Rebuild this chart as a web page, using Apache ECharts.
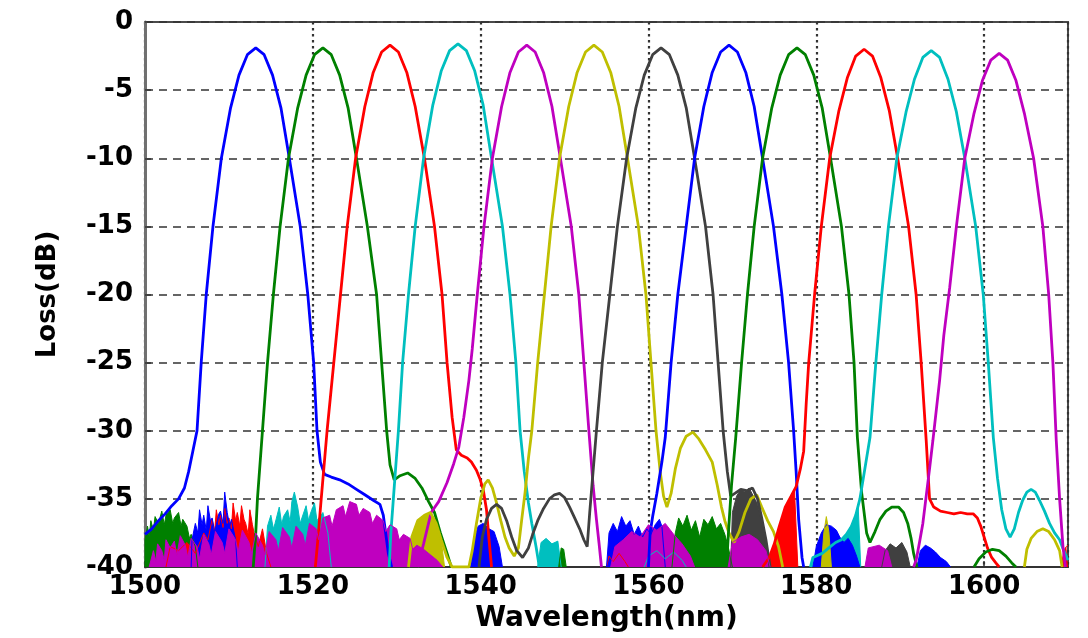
<!DOCTYPE html>
<html>
<head>
<meta charset="utf-8">
<title>Loss spectrum</title>
<script src="https://cdn.jsdelivr.net/npm/echarts@6/dist/echarts.min.js"></script>
<style>
  html, body { margin: 0; padding: 0; background: #fff; }
  #chart { width: 1088px; height: 638px; }
</style>
</head>
<body>
<div id="chart"></div>
<script>
// axis ranges
const xRange = [1500, 1610]
const yRange = [-40, 0]

// main channel traces, [wavelength nm, loss dB]
const ch1 = [[1500,-37.6],[1500.8,-37.2],[1501.6,-36.6],[1502.4,-36.1],[1503.2,-35.5],[1504,-35],[1504.7,-34.2],[1505.2,-33],[1505.7,-31.5],[1506.2,-30],[1506.7,-25],[1507.3,-20],[1508.1,-15],[1509.1,-10],[1510.2,-6.3],[1511.2,-3.9],[1512.2,-2.4],[1513.2,-1.9],[1514.2,-2.4],[1515.2,-3.9],[1516.2,-6.3],[1517.2,-10],[1518.5,-15],[1519.4,-20],[1520.1,-25],[1520.5,-30],[1520.9,-32.3],[1521.4,-33.2],[1522.2,-33.4],[1523.2,-33.6],[1524.2,-33.9],[1525.2,-34.3],[1526.2,-34.7],[1527.2,-35.1],[1528,-35.4],[1528.4,-36.2],[1528.7,-37.6],[1529,-39],[1529.4,-40]]
const ch2 = [[1512.9,-40],[1513.2,-37.5],[1513.4,-35],[1514,-30],[1514.6,-25],[1515.3,-20],[1516.1,-15],[1517.1,-10],[1518.2,-6.3],[1519.2,-3.9],[1520.2,-2.4],[1521.2,-1.9],[1522.2,-2.4],[1523.2,-3.9],[1524.2,-6.3],[1525.2,-10],[1526.5,-15],[1527.6,-20],[1528.2,-25],[1528.8,-30],[1529.2,-32.5],[1529.7,-33.6],[1530.4,-33.3],[1531.3,-33.1],[1532.2,-33.5],[1533,-34.2],[1533.8,-35.2],[1534.5,-36],[1535.2,-37.5],[1536,-39],[1536.5,-40]]
const ch3 = [[1520.3,-40],[1520.6,-38],[1521,-35],[1521.7,-30],[1522.5,-25],[1523.3,-20],[1524.1,-15],[1525.1,-10],[1526.2,-6.2],[1527.2,-3.7],[1528.2,-2.2],[1529.2,-1.7],[1530.2,-2.2],[1531.2,-3.7],[1532.2,-6.2],[1533.3,-10],[1534.5,-15],[1535.4,-20],[1536,-25],[1536.6,-29],[1537.1,-31.4],[1537.7,-31.8],[1538.4,-32],[1538.9,-32.3],[1539.5,-32.9],[1539.9,-33.5],[1540.3,-34.3],[1540.7,-35.8],[1541,-38],[1541.3,-40]]
const ch4 = [[1529.1,-40],[1529.3,-37.5],[1529.6,-35],[1530.2,-30],[1530.7,-25],[1531.4,-20],[1532.2,-15],[1533.2,-10],[1534.3,-6.1],[1535.3,-3.6],[1536.3,-2.1],[1537.3,-1.6],[1538.3,-2.1],[1539.3,-3.6],[1540.3,-6.1],[1541.3,-10],[1542.6,-15],[1543.5,-20],[1544.2,-25],[1544.7,-30],[1545.2,-33],[1545.7,-35.3],[1546.1,-36.8],[1546.6,-38.5],[1547,-40]]
const ch5 = [[1532.5,-40],[1533.2,-38.3],[1534.1,-36],[1535,-35.2],[1536,-33.8],[1536.8,-32.4],[1537.4,-31.2],[1538,-29],[1538.6,-26.3],[1539,-24],[1539.6,-20],[1540.4,-15],[1541.4,-10],[1542.5,-6.2],[1543.5,-3.7],[1544.5,-2.2],[1545.5,-1.7],[1546.5,-2.2],[1547.5,-3.7],[1548.5,-6.2],[1549.5,-10],[1550.8,-15],[1551.7,-20],[1552.3,-25],[1552.9,-30],[1553.4,-34],[1553.8,-36.5],[1554.1,-38.2],[1554.4,-40]]
const ch6 = [[1531.4,-40],[1531.8,-37.8],[1532.5,-36.6],[1533.3,-36.2],[1534,-36],[1534.7,-36.8],[1535.3,-38],[1536,-39.3],[1536.6,-40],[1538.6,-40],[1539,-38.8],[1539.5,-36.8],[1540,-35],[1540.5,-33.9],[1540.9,-33.6],[1541.4,-34.2],[1541.9,-35.3],[1542.4,-36.6],[1542.9,-37.8],[1543.4,-38.6],[1544,-39.2],[1544.5,-38.6],[1544.9,-36.5],[1545.3,-34.5],[1545.7,-32],[1546.1,-30],[1546.8,-25],[1547.6,-20],[1548.4,-15],[1549.4,-10],[1550.5,-6.2],[1551.5,-3.7],[1552.5,-2.2],[1553.5,-1.7],[1554.5,-2.2],[1555.5,-3.7],[1556.5,-6.2],[1557.5,-10],[1558.8,-15],[1559.7,-20],[1560.3,-25],[1560.9,-30],[1561.4,-33],[1561.8,-34.8],[1562.2,-35.6],[1562.7,-34.6],[1563.2,-32.8],[1563.8,-31.3],[1564.5,-30.4],[1565.3,-30.1],[1566,-30.6],[1566.8,-31.4],[1567.6,-32.3],[1568.2,-34],[1568.7,-35.6],[1569.1,-36.6],[1569.6,-37.5],[1570.2,-38.2],[1570.8,-37.4],[1571.5,-36],[1572.2,-35],[1572.9,-34.7],[1573.5,-35.6],[1574.2,-36.6],[1574.9,-37.4],[1575.5,-38.5],[1576,-40]]
const ch7 = [[1539.8,-40],[1540.2,-37.8],[1540.7,-36.5],[1541.3,-35.7],[1541.9,-35.4],[1542.5,-35.7],[1543.1,-36.6],[1543.7,-37.8],[1544.3,-38.8],[1545,-39.3],[1545.7,-38.6],[1546.2,-37.6],[1546.8,-36.6],[1547.5,-35.7],[1548.2,-35],[1548.8,-34.7],[1549.4,-34.6],[1550,-34.9],[1550.6,-35.6],[1551.2,-36.4],[1551.8,-37.2],[1552.3,-38],[1552.7,-38.5],[1553,-36],[1553.4,-33],[1553.8,-30],[1554.5,-25],[1555.4,-20],[1556.3,-15],[1557.4,-10],[1558.5,-6.3],[1559.5,-3.9],[1560.5,-2.4],[1561.5,-1.9],[1562.5,-2.4],[1563.5,-3.9],[1564.5,-6.3],[1565.5,-10],[1566.8,-15],[1567.7,-20],[1568.3,-25],[1568.9,-30],[1569.4,-33],[1569.8,-34.8],[1570.3,-34.6],[1571,-34.3],[1571.7,-34.4],[1572.4,-34.2],[1573,-35],[1573.5,-36.4],[1574,-38],[1574.5,-40]]
const ch8 = [[1560,-40],[1560.2,-37.5],[1560.5,-36.3],[1561,-34.6],[1561.6,-32.3],[1562,-30.5],[1562.7,-25],[1563.5,-20],[1564.5,-15],[1565.5,-10],[1566.6,-6.2],[1567.6,-3.7],[1568.6,-2.2],[1569.6,-1.7],[1570.6,-2.2],[1571.6,-3.7],[1572.6,-6.2],[1573.6,-10],[1574.9,-15],[1575.9,-20],[1576.7,-25],[1577.3,-30],[1577.6,-33],[1577.9,-36.5],[1578.3,-39.3],[1578.5,-40]]
const ch9 = [[1569.3,-40],[1569.6,-36.8],[1569.9,-34],[1570.4,-30.5],[1571.1,-25],[1571.8,-20],[1572.6,-15],[1573.6,-10],[1574.7,-6.3],[1575.7,-3.9],[1576.7,-2.4],[1577.7,-1.9],[1578.7,-2.4],[1579.7,-3.9],[1580.7,-6.3],[1581.7,-10],[1583,-15],[1583.9,-20],[1584.5,-25],[1584.9,-30.5],[1585.4,-34.5],[1586,-37.5],[1586.4,-38.2],[1587,-37.4],[1587.6,-36.5],[1588.3,-35.9],[1589,-35.6],[1589.8,-35.6],[1590.4,-36],[1590.9,-36.8],[1591.3,-37.9],[1591.6,-39],[1592,-40]]
const ch10 = [[1573.6,-40],[1574.4,-39.3],[1575,-38.3],[1575.6,-37],[1576.3,-35.6],[1577,-34.8],[1577.6,-34.1],[1578.1,-32.8],[1578.5,-31.5],[1578.8,-28],[1579.1,-25],[1579.8,-20],[1580.6,-15],[1581.6,-10],[1582.7,-6.5],[1583.7,-4.1],[1584.7,-2.5],[1585.7,-2],[1586.7,-2.5],[1587.7,-4.1],[1588.7,-6.5],[1589.7,-10],[1591,-15],[1591.9,-20],[1592.5,-25],[1593.1,-30.7],[1593.5,-35],[1594,-35.6],[1594.8,-35.9],[1595.6,-36],[1596.4,-36.1],[1597.2,-36],[1598,-36.1],[1598.7,-36.1],[1599.2,-36.4],[1599.6,-37],[1600,-37.8],[1600.4,-38.6],[1600.9,-39.3],[1601.4,-39.7],[1601.8,-40]]
const ch11 = [[1579.3,-40],[1579.6,-39.3],[1580.7,-39],[1581.5,-38.6],[1582.3,-38.2],[1583,-38],[1583.6,-37.6],[1584.2,-37],[1584.7,-36.2],[1585.2,-35],[1585.6,-33.5],[1586,-32],[1586.4,-30.5],[1587.1,-25],[1587.8,-20],[1588.6,-15],[1589.6,-10],[1590.7,-6.6],[1591.7,-4.2],[1592.7,-2.6],[1593.7,-2.1],[1594.7,-2.6],[1595.7,-4.2],[1596.7,-6.6],[1597.7,-10],[1599,-15],[1599.9,-20],[1600.5,-25],[1601.1,-30.5],[1601.6,-33.5],[1602.1,-35.8],[1602.6,-37.2],[1603.1,-37.8],[1603.6,-37.2],[1604.1,-36],[1604.6,-35.1],[1605.1,-34.5],[1605.6,-34.3],[1606.1,-34.5],[1606.6,-35.1],[1607.2,-35.9],[1607.8,-36.8],[1608.4,-37.5],[1609,-38],[1609.5,-38.8],[1610,-39.5]]
const ch12 = [[1591.6,-40],[1591.9,-39.5],[1592.3,-38.2],[1592.7,-36.8],[1593.1,-34.8],[1593.5,-32.8],[1593.9,-30.7],[1594.3,-28.5],[1594.7,-26.3],[1595.2,-23],[1595.9,-19.5],[1596.7,-15],[1597.7,-10],[1598.8,-6.7],[1599.8,-4.3],[1600.8,-2.8],[1601.8,-2.3],[1602.8,-2.8],[1603.8,-4.3],[1604.8,-6.7],[1605.9,-10],[1607,-15],[1607.7,-20],[1608.2,-25],[1608.6,-30.7],[1609,-35],[1609.4,-38.5],[1609.7,-40]]

// small side bumps drawn as plain lines
const greenBump = [[1598.8,-40],[1599.4,-39.4],[1600.2,-38.9],[1601,-38.7],[1601.8,-38.8],[1602.6,-39.2],[1603.3,-39.7],[1603.8,-40]]
const yellowBump = [[1604.8,-40],[1605.1,-38.7],[1605.6,-37.9],[1606.3,-37.4],[1607,-37.2],[1607.7,-37.4],[1608.4,-38],[1609,-38.8],[1609.3,-40]]

// noise floor patches (filled down to -40)
const noiseBlue1 = [[1505.5,-40],[1505.6,-38],[1506,-36.8],[1506.3,-37.5],[1506.5,-35.8],[1506.8,-36.9],[1507,-36.2],[1507.3,-37.3],[1507.5,-35.5],[1507.8,-36.6],[1508,-36.4],[1508.3,-37.4],[1508.5,-36.9],[1508.8,-36.1],[1509,-35.9],[1509.3,-36.8],[1509.5,-34.5],[1509.8,-36],[1510.1,-37],[1510.3,-36.5],[1510.6,-37.4],[1510.8,-38],[1511,-40]]
const noiseBlue2 = [[1538.8,-40],[1539.2,-38],[1539.7,-37],[1540.3,-36.8],[1541,-37.2],[1541.6,-37.4],[1542.2,-38.5],[1542.6,-40]]
const noiseBlue3 = [[1555,-40],[1555.3,-37.5],[1555.8,-36.8],[1556.3,-37.4],[1556.8,-36.3],[1557.3,-37],[1557.8,-36.6],[1558.3,-37.6],[1558.8,-37],[1559.3,-37.8],[1559.8,-37.2],[1560.3,-37.6],[1560.8,-36.9],[1561.3,-36.5],[1561.6,-37],[1562,-40]]
const noiseBlue4 = [[1579.6,-40],[1580,-38.5],[1580.6,-37.5],[1581.2,-36.9],[1581.8,-37],[1582.4,-37.3],[1582.8,-37.8],[1583.3,-38.2],[1583.8,-37.9],[1584.3,-38.4],[1584.8,-39.2],[1585.2,-40]]
const noiseBlue5 = [[1592,-40],[1592.4,-38.8],[1593,-38.4],[1593.6,-38.6],[1594.2,-38.9],[1594.8,-39.3],[1595.5,-39.6],[1596,-40]]
const noiseGreen1 = [[1500,-40],[1500,-38],[1500.3,-37],[1500.5,-37.8],[1500.7,-36.6],[1501,-37.3],[1501.2,-36.3],[1501.6,-36.8],[1502,-35.9],[1502.3,-36.9],[1502.5,-36.2],[1503,-35.8],[1503.3,-36.8],[1503.5,-36.4],[1504,-36],[1504.3,-37],[1504.5,-36.5],[1505,-37],[1505.3,-37.9],[1505.5,-37.6],[1506,-38.5],[1506.3,-40]]
const noiseGreen2 = [[1562.8,-40],[1563.2,-37.5],[1563.6,-36.4],[1564.1,-37],[1564.6,-36.2],[1565.1,-37.3],[1565.6,-36.6],[1566.1,-37.8],[1566.6,-36.5],[1567.1,-36.9],[1567.6,-36.3],[1568.1,-37.2],[1568.6,-36.8],[1569.1,-37.6],[1569.5,-38.5],[1570,-40]]
const noiseGreen3 = [[1549.3,-40],[1549.6,-38.6],[1549.9,-38.7],[1550.2,-40]]
const noiseRed1 = [[1502.5,-40],[1503,-38.5],[1504,-38.8],[1505,-38.2],[1506,-39],[1507,-37.5],[1507.5,-38],[1508,-36.5],[1508.3,-37.4],[1508.5,-35.8],[1508.8,-36.9],[1509,-36.2],[1509.3,-37.1],[1509.5,-35.7],[1509.8,-36.8],[1510,-36.4],[1510.3,-37.2],[1510.5,-35.3],[1510.8,-36.6],[1511,-36],[1511.3,-37],[1511.5,-35.5],[1511.8,-36.5],[1512,-36.8],[1512.3,-37.6],[1512.5,-35.8],[1512.8,-36.9],[1513,-37.5],[1513.5,-38.5],[1514,-37.2],[1514.5,-39],[1515,-40]]
const noiseRed2 = [[1573.6,-40],[1574.4,-39.3],[1575,-38.3],[1575.6,-37],[1576.3,-35.6],[1577,-34.8],[1577.4,-34.3],[1577.8,-40]]
const noiseRed3 = [[1555,-40],[1555.3,-39.2],[1555.8,-39.6],[1556.5,-39],[1557.2,-39.6],[1557.6,-40]]
const noiseRed4 = [[1609.2,-40],[1609.5,-38.8],[1609.8,-38.5],[1610,-38.4]]
const noiseCyan1 = [[1514.3,-40],[1514.6,-37],[1515,-36.2],[1515.3,-37.2],[1515.5,-36.8],[1516,-35.6],[1516.3,-36.9],[1516.5,-36.3],[1517,-35.8],[1517.3,-36.7],[1517.5,-35.2],[1517.8,-34.5],[1518.2,-35.6],[1518.5,-36.8],[1518.7,-36.4],[1519.2,-35.5],[1519.5,-36.6],[1519.7,-36.1],[1520.2,-35.3],[1520.5,-36.6],[1520.7,-36.5],[1521.2,-36],[1521.8,-37.5],[1522.2,-40]]
const noiseCyan2 = [[1579.3,-40],[1579.6,-39.3],[1580.7,-39],[1582,-38.3],[1583.5,-37.8],[1584.5,-36.5],[1585,-35.6],[1585.3,-40]]
const noiseCyan3 = [[1546.8,-40],[1547.2,-38.2],[1547.8,-37.9],[1548.5,-38.3],[1549.2,-38.1],[1549.6,-40]]
const noiseCyan4 = [[1559.5,-40],[1560,-39.2],[1561,-38.8],[1562,-39.4],[1563,-38.9],[1564,-39.5],[1564.5,-40]]
const noiseMagenta1 = [[1500.5,-40],[1501,-38.8],[1501.3,-39.6],[1501.5,-38.3],[1502,-38.8],[1502.3,-39.5],[1502.5,-38],[1503,-38.6],[1503.5,-38.1],[1503.8,-39.2],[1504.2,-37.7],[1504.8,-38.4],[1505.1,-39.3],[1505.5,-37.9],[1506.2,-38.5],[1506.5,-39.4],[1507,-37.6],[1507.6,-38.3],[1507.9,-39.1],[1508.4,-37.4],[1509.2,-38.2],[1509.5,-39],[1510,-37.2],[1510.8,-38],[1511.1,-38.9],[1511.6,-37.3],[1512.4,-38.2],[1512.7,-39],[1513.2,-37.5],[1514,-38.4],[1514.3,-39.1],[1514.8,-37.4],[1515.6,-38],[1515.9,-38.8],[1516.4,-37.1],[1517.2,-37.8],[1517.5,-38.6],[1518,-37],[1518.8,-37.6],[1519.1,-38.4],[1519.6,-36.8],[1520.4,-37.2],[1520.7,-38],[1521.2,-36.4],[1522,-36.2],[1522.3,-37],[1522.8,-35.8],[1523.6,-35.5],[1523.9,-36.3],[1524.4,-35.2],[1525.2,-35.4],[1525.5,-36.2],[1526,-35.7],[1526.8,-36],[1527.1,-36.8],[1527.6,-36.2],[1528.4,-36.6],[1528.7,-37.4],[1529.2,-36.9],[1530,-37.2],[1530.3,-38],[1530.8,-37.6],[1531.6,-37.9],[1531.9,-38.7],[1532.4,-38.4],[1533.2,-38.7],[1534,-39.1],[1534.8,-39.5],[1535.5,-40]]
const noiseMagenta2 = [[1555.5,-40],[1556,-38.5],[1557,-38],[1558,-37.4],[1559,-37.8],[1560,-36.9],[1561,-37.3],[1562,-36.8],[1563,-37.6],[1564,-38.3],[1565,-39.2],[1565.5,-40]]
const noiseMagenta3 = [[1569.5,-40],[1570,-38.2],[1571,-37.8],[1572,-37.6],[1573,-38],[1574,-38.8],[1574.5,-40]]
const noiseMagenta4 = [[1585.8,-40],[1586.2,-38.6],[1587.5,-38.4],[1588.5,-38.8],[1589,-40]]
const noiseYellow1 = [[1531.4,-40],[1531.8,-37.8],[1532.5,-36.6],[1533.3,-36.2],[1534,-36],[1534.7,-36.8],[1535.3,-38],[1535.7,-40]]
const noiseYellow2 = [[1580.6,-40],[1580.9,-37.5],[1581.2,-36.3],[1581.5,-37.4],[1581.8,-40]]
const noiseBlack1 = [[1569.8,-40],[1570,-36],[1570.5,-34.8],[1571,-34.3],[1571.5,-34.5],[1572,-34.2],[1572.5,-34.8],[1573,-35.4],[1573.5,-36.6],[1574,-38],[1574.4,-40]]
const noiseBlack2 = [[1587.8,-40],[1588.2,-38.8],[1588.8,-38.3],[1589.5,-38.6],[1590.2,-38.2],[1590.8,-38.9],[1591.2,-40]]

const BLUE = '#0000ff'
const GREEN = '#008000'
const RED = '#ff0000'
const CYAN = '#00bfbf'
const MAGENTA = '#bf00bf'
const YELLOW = '#bfbf00'
const BLACK = '#404040'

const fontFamily = '"DejaVu Sans", "Liberation Sans", Arial, sans-serif'

function lineSeries(data, color) {
  return {
    type: 'line',
    data: data,
    symbol: 'none',
    showSymbol: false,
    lineStyle: { color: color, width: 2.8 },
    itemStyle: { color: color },
    animation: false
  }
}

function fillSeries(data, color) {
  return {
    type: 'line',
    data: data,
    symbol: 'none',
    showSymbol: false,
    lineStyle: { color: color, width: 1 },
    itemStyle: { color: color },
    areaStyle: { color: color, opacity: 1, origin: 'start' },
    animation: false
  }
}

const series = [
  fillSeries(noiseGreen1, GREEN),
  fillSeries(noiseRed1, RED),
  fillSeries(noiseBlue1, BLUE),
  fillSeries(noiseCyan1, CYAN),
  fillSeries(noiseYellow1, YELLOW),
  fillSeries(noiseBlue2, BLUE),
  fillSeries(noiseCyan3, CYAN),
  fillSeries(noiseGreen3, GREEN),
  fillSeries(noiseRed3, RED),
  fillSeries(noiseBlue3, BLUE),
  fillSeries(noiseCyan4, CYAN),
  fillSeries(noiseGreen2, GREEN),
  fillSeries(noiseBlack1, BLACK),
  fillSeries(noiseRed2, RED),
  fillSeries(noiseCyan2, CYAN),
  fillSeries(noiseBlue4, BLUE),
  fillSeries(noiseYellow2, YELLOW),
  fillSeries(noiseBlack2, BLACK),
  fillSeries(noiseBlue5, BLUE),
  fillSeries(noiseRed4, RED),
  lineSeries(ch1, BLUE),
  lineSeries(ch2, GREEN),
  lineSeries(ch3, RED),
  lineSeries(ch4, CYAN),
  lineSeries(ch5, MAGENTA),
  lineSeries(ch6, YELLOW),
  lineSeries(ch7, BLACK),
  lineSeries(ch8, BLUE),
  lineSeries(ch9, GREEN),
  lineSeries(ch10, RED),
  lineSeries(ch11, CYAN),
  lineSeries(greenBump, GREEN),
  lineSeries(yellowBump, YELLOW),
  lineSeries(ch12, MAGENTA),
  fillSeries(noiseMagenta1, MAGENTA),
  fillSeries(noiseMagenta2, MAGENTA),
  fillSeries(noiseMagenta3, MAGENTA),
  fillSeries(noiseMagenta4, MAGENTA)
]

const chart = echarts.init(document.getElementById('chart'))

chart.setOption({
  backgroundColor: '#ffffff',
  animation: false,
  grid: {
    left: 145,
    right: 20,
    top: 22,
    bottom: 71,
    show: true,
    borderColor: '#4a4a4a',
    borderWidth: 2,
    backgroundColor: '#ffffff'
  },
  xAxis: {
    type: 'value',
    min: xRange[0],
    max: xRange[1],
    interval: 20,
    name: 'Wavelength(nm)',
    nameLocation: 'middle',
    nameGap: 36,
    nameTextStyle: { color: '#000', fontFamily: fontFamily, fontWeight: 'bold', fontSize: 28 },
    axisLine: { show: true, onZero: false, lineStyle: { color: '#333', width: 2 } },
    axisTick: { show: true, inside: true, length: 6, lineStyle: { color: '#333', width: 1.5 } },
    axisLabel: {
      color: '#000', fontFamily: fontFamily, fontWeight: 'bold', fontSize: 26, margin: 7,
      showMaxLabel: false,
      formatter: v => String(v)
    },
    splitLine: { show: true, lineStyle: { color: '#333', width: 2.2, type: [2.5, 3.5] } }
  },
  yAxis: {
    type: 'value',
    min: yRange[0],
    max: yRange[1],
    interval: 5,
    name: 'Loss(dB)',
    nameLocation: 'middle',
    nameRotate: 90,
    nameGap: 84,
    nameTextStyle: { color: '#000', fontFamily: fontFamily, fontWeight: 'bold', fontSize: 26 },
    axisLine: { show: true, onZero: false, lineStyle: { color: '#707070', width: 3 } },
    axisTick: { show: true, inside: true, length: 6, lineStyle: { color: '#333', width: 1.5 } },
    axisLabel: { color: '#000', fontFamily: fontFamily, fontWeight: 'bold', fontSize: 26, margin: 12 },
    splitLine: { show: true, lineStyle: { color: '#333', width: 1.6, type: [8, 6] } }
  },
  series: series
})
</script>
</body>
</html>
